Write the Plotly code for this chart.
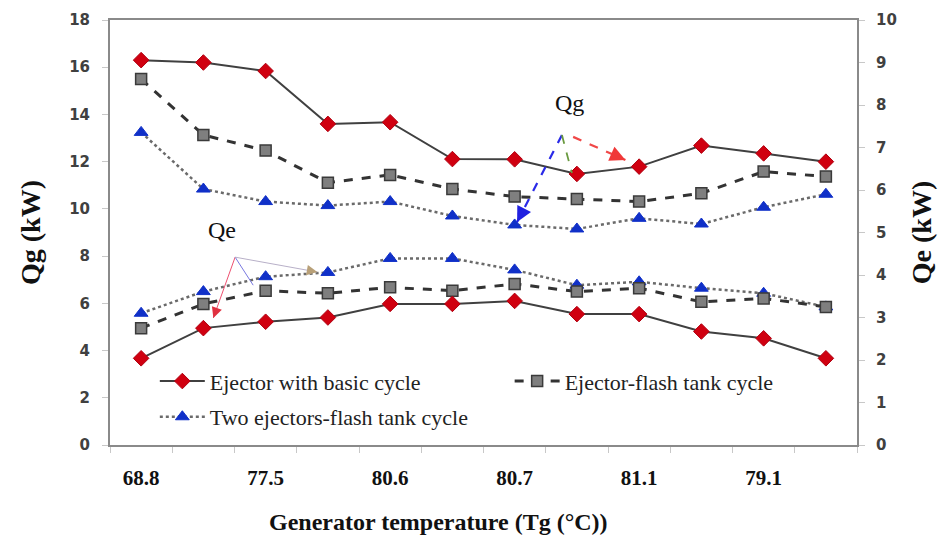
import plotly.graph_objects as go

# Generator temperature categories (12 runs, every other one labelled)
x_idx = list(range(12))
tick_pos = [0, 2, 4, 6, 8, 10]
tick_labels = ["68.8", "77.5", "80.6", "80.7", "81.1", "79.1"]

# Generator heat load Qg (kW) - left axis
qg_basic = [16.3, 16.2, 15.84, 13.6, 13.67, 12.11, 12.1, 11.48, 11.79, 12.68, 12.35, 12.0]
qg_flash = [15.5, 13.13, 12.47, 11.11, 11.44, 10.84, 10.52, 10.42, 10.31, 10.66, 11.58, 11.37]
qg_two = [13.24, 10.84, 10.31, 10.14, 10.31, 9.7, 9.32, 9.15, 9.6, 9.36, 10.07, 10.62]

# Evaporator cooling load Qe (kW) - right axis
qe_basic = [2.04, 2.75, 2.9, 3.0, 3.32, 3.32, 3.39, 3.08, 3.08, 2.67, 2.51, 2.04]
qe_flash = [2.75, 3.32, 3.63, 3.57, 3.71, 3.63, 3.79, 3.61, 3.69, 3.37, 3.45, 3.25]
qe_two = [3.1, 3.61, 3.96, 4.06, 4.39, 4.39, 4.12, 3.76, 3.84, 3.69, 3.57, 3.25]

names = ["Ejector with basic cycle", "Ejector-flash tank cycle", "Two ejectors-flash tank cycle"]

styles = {
    "basic": dict(line=dict(color="#404040", width=2, dash="solid"),
                  marker=dict(symbol="diamond", size=12, color="#d00010",
                              line=dict(color="#b00010", width=1))),
    "flash": dict(line=dict(color="#333333", width=3, dash="dash"),
                  marker=dict(symbol="square", size=11, color="#7f7f7f",
                              line=dict(color="#3a3a3a", width=1.5))),
    "two": dict(line=dict(color="#6a6a6a", width=2.5, dash="dot"),
                marker=dict(symbol="triangle-up", size=12, color="#1030c8",
                            line=dict(color="#1030c8", width=1))),
}

fig = go.Figure()

series = [
    ("two", qg_two, qe_two, names[2], "legend3"),
    ("flash", qg_flash, qe_flash, names[1], "legend2"),
    ("basic", qg_basic, qe_basic, names[0], "legend"),
]
for key, qg, qe, name, leg in series:
    st = styles[key]
    fig.add_trace(go.Scatter(x=x_idx, y=qg, mode="lines+markers", name=name,
                             line=st["line"], marker=st["marker"],
                             legend=leg, showlegend=True, yaxis="y"))
    fig.add_trace(go.Scatter(x=x_idx, y=qe, mode="lines+markers", name=name,
                             line=st["line"], marker=st["marker"],
                             showlegend=False, yaxis="y2"))

# Pointer lines: (start x, start y, end x, end y, colour, dash, width, y-axis, head colour)
pointers = [
    (1.51, 4.42, 1.16, 2.99, "#ee5070", "solid", 1, "y2", "#e03040"),
    (1.51, 4.42, 1.80, 3.76, "#7878e0", "solid", 1, "y2", "#2840d0"),
    (1.51, 4.42, 2.83, 4.07, "#b8b0c8", "solid", 1, "y2", "#b8a078"),
    (6.76, 13.13, 6.04, 9.44, "#2a2ae8", "dash", 2.2, "y", "#2020e0"),
    (6.76, 13.13, 6.92, 11.52, "#6a9a40", "dash", 1.8, "y", "#6a9a40"),
    (6.94, 13.05, 7.78, 12.07, "#f04848", "dash", 2.2, "y", "#f03838"),
]
for x0, y0, x1, y1, col, dash, w, yax, headcol in pointers:
    fig.add_shape(type="line", xref="x", yref=yax, x0=x0, y0=y0, x1=x1, y1=y1,
                  line=dict(color=col, width=w, dash=dash))
    fig.add_annotation(x=x1, y=y1, xref="x", yref=yax,
                       ax=x1 - 0.12 * (x1 - x0), ay=y1 - 0.12 * (y1 - y0),
                       axref="x", ayref=yax, text="", showarrow=True,
                       arrowhead=2, arrowsize=1.4, arrowwidth=max(w, 1.5),
                       arrowcolor=headcol)

fig.add_annotation(x=1.3, y=5.05, xref="x", yref="y2", text="Qe", showarrow=False,
                   font=dict(family="Liberation Serif", size=24, color="#111"))
fig.add_annotation(x=6.88, y=14.5, xref="x", yref="y", text="Qg", showarrow=False,
                   font=dict(family="Liberation Serif", size=24, color="#111"))

# x-axis title
fig.add_annotation(x=0.44, y=-0.18, xref="paper", yref="paper",
                   text="<b>Generator temperature (Tg (°C))</b>", showarrow=False,
                   yanchor="middle",
                   font=dict(family="Liberation Serif", size=24, color="#111"))

axis_line = "#8a8a8a"
tick_font = dict(family="DejaVu Sans", size=15, color="#404040", weight="bold")
legend_font = dict(family="Liberation Serif", size=22, color="#222")

fig.update_layout(
    width=952, height=542,
    margin=dict(l=110, r=95, t=20, b=97),
    paper_bgcolor="white", plot_bgcolor="white",
    xaxis=dict(range=[-0.5, 11.5], tickmode="array", tickvals=tick_pos,
               ticktext=tick_labels, ticks="", showgrid=False, zeroline=False,
               showline=True, linecolor=axis_line, linewidth=2, mirror=True,
               ticklabelstandoff=13,
               tickfont=dict(family="Liberation Serif", size=21, color="#111", weight="bold"),
               minor=dict(tickmode="array",
                          tickvals=[i + 0.5 for i in range(-1, 12)],
                          ticks="outside", ticklen=6, tickwidth=1, tickcolor="#c8c8c8")),
    yaxis=dict(range=[0, 18], dtick=2, showgrid=False, zeroline=False,
               showline=True, linecolor=axis_line, linewidth=2,
               ticks="outside", ticklen=6, tickcolor="#c8c8c8",
               ticklabelstandoff=9, tickfont=tick_font,
               title=dict(text="<b>Qg (kW)</b>", standoff=20,
                          font=dict(family="Liberation Serif", size=28, color="#111"))),
    yaxis2=dict(range=[0, 10], dtick=1, overlaying="y", side="right",
                showgrid=False, zeroline=False,
                showline=True, linecolor=axis_line, linewidth=2,
                ticks="outside", ticklen=6, tickcolor="#c8c8c8",
                ticklabelstandoff=8, tickfont=tick_font,
                title=dict(text="<b>Qe (kW)</b>", standoff=16,
                           font=dict(family="Liberation Serif", size=28, color="#111"))),
    legend=dict(x=0.06, y=0.15, xanchor="left", yanchor="middle",
                bgcolor="rgba(0,0,0,0)", itemwidth=45, font=legend_font),
    legend2=dict(x=0.535, y=0.15, xanchor="left", yanchor="middle",
                 bgcolor="rgba(0,0,0,0)", itemwidth=45, font=legend_font),
    legend3=dict(x=0.06, y=0.066, xanchor="left", yanchor="middle",
                 bgcolor="rgba(0,0,0,0)", itemwidth=45, font=legend_font),
)

fig.write_html("out.html")
